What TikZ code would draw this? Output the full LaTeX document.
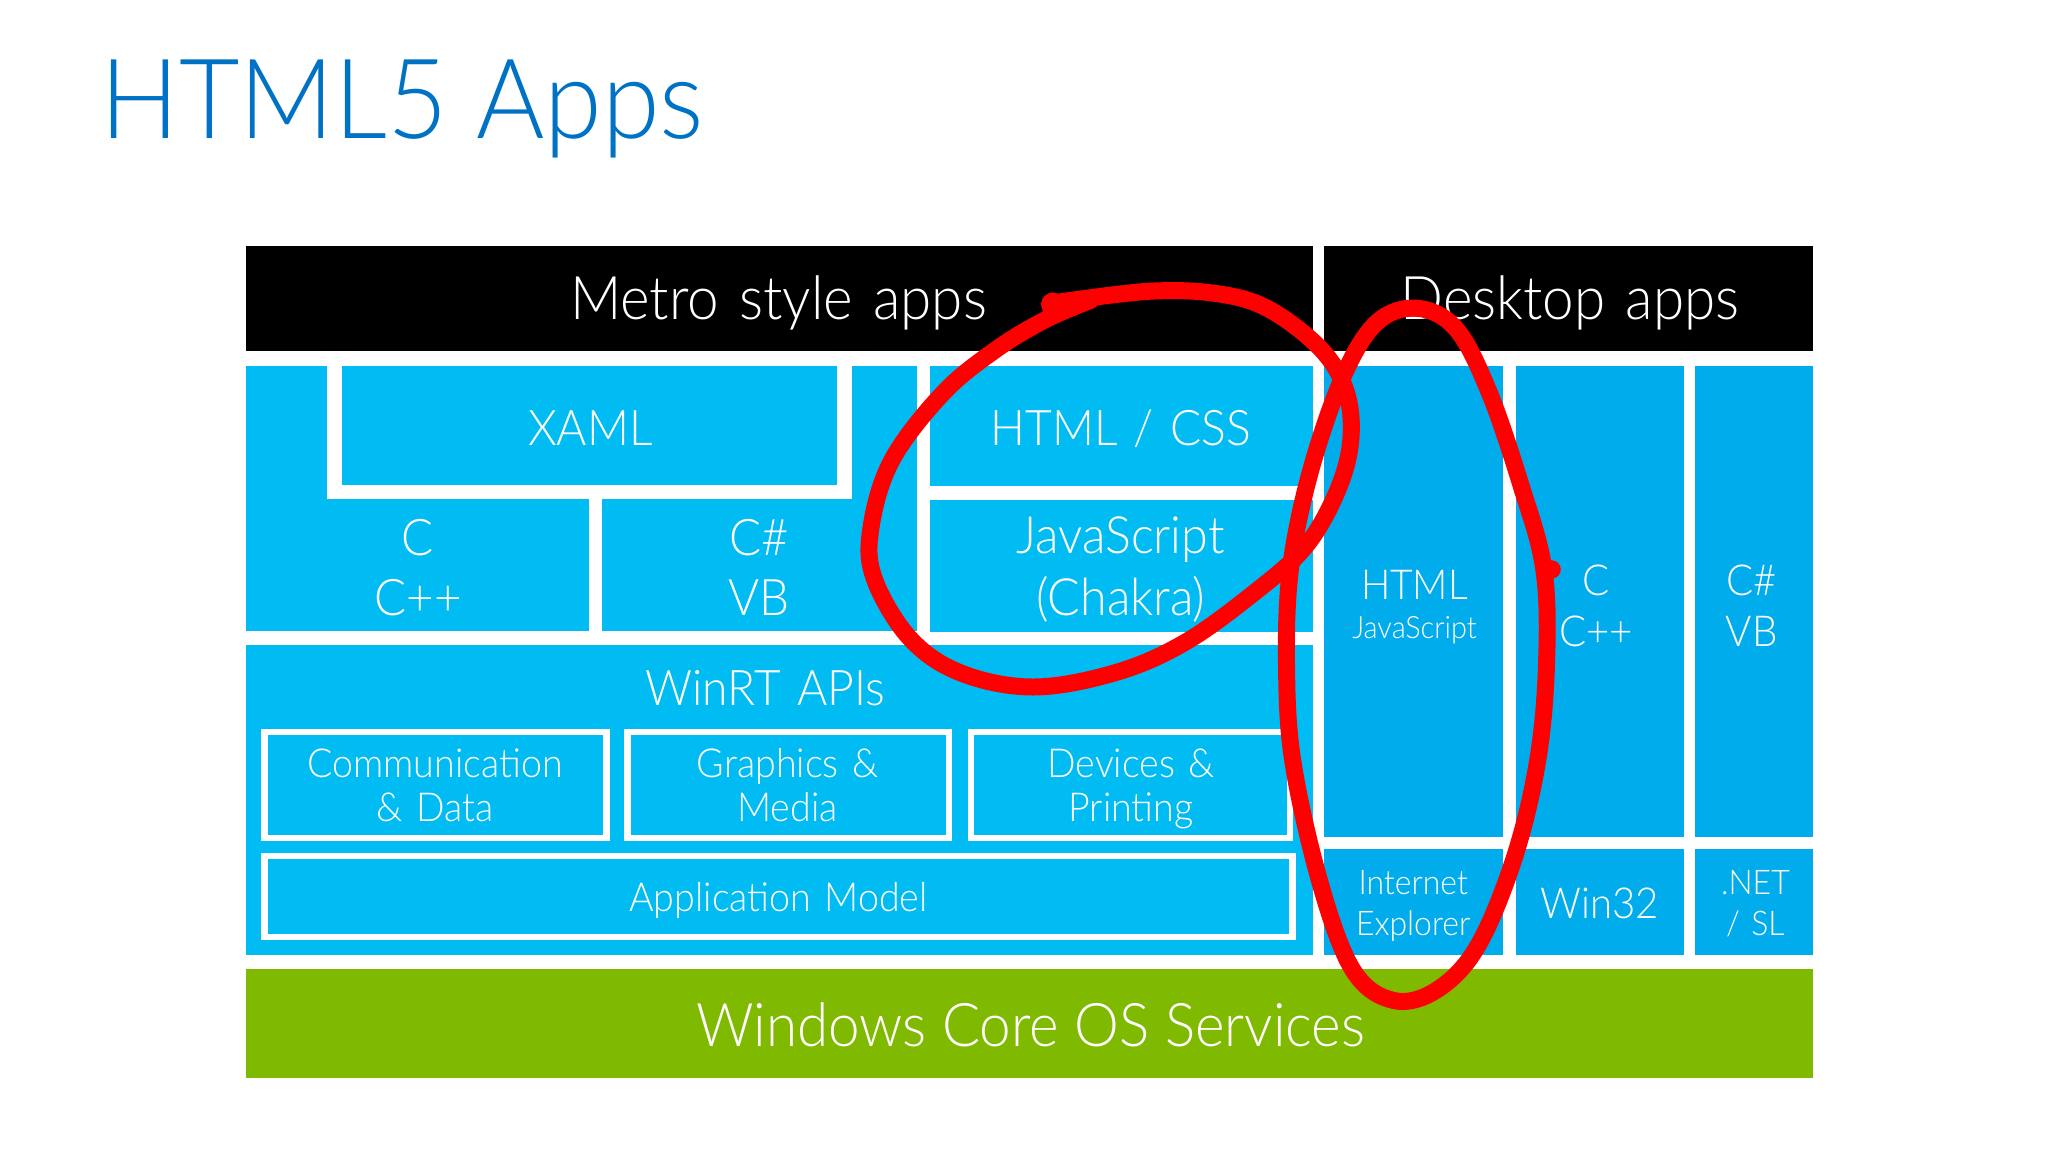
\documentclass[tikz,border=0pt]{standalone}
\usepackage{fontspec}
\setmainfont{Lato Light}[FakeStretch=0.94]
\usepackage{xcolor}

\definecolor{metroblue}{RGB}{0,188,242}
\definecolor{deskblue}{RGB}{0,172,236}
\definecolor{coregreen}{RGB}{127,186,0}
\definecolor{titleblue}{RGB}{0,114,198}
\definecolor{penred}{RGB}{255,0,0}

% filled block: name, x1, y1, x2, y2, colour
\newcommand{\blk}[6]{\node[fill=#6, inner sep=0pt, outer sep=0pt, anchor=north west,
  minimum width={(#4-#2)*0.01cm}, minimum height={(#5-#3)*0.01cm}] (#1) at (#2,#3) {};}
% outlined block: name, x1, y1, x2, y2
\newcommand{\obox}[5]{\node[draw=white, line width=0.05cm, inner sep=0pt, outer sep=0pt, anchor=north west,
  minimum width={(#4-#2-5)*0.01cm}, minimum height={(#5-#3-5)*0.01cm}] (#1) at (#2+2.5,#3+2.5) {};}
\newcommand{\fs}[2]{\fontsize{#1}{#2}\selectfont}

\begin{document}
\begin{tikzpicture}[x=0.01cm, y=-0.01cm,
  lbl/.style={text=white, inner sep=0pt, anchor=base, align=center, text width=3.5cm},
  pen/.style={draw=penred, line width=0.13cm, line cap=round, line join=round}]

\useasboundingbox[fill=white] (0,0) rectangle (1568,882);

% Title
\node[anchor=base west, inner sep=0pt, text=titleblue, font=\fs{24.2}{30}] (title) at (76,106) {HTML5 Apps};

% Header bars
\blk{metrobar}{188}{188}{1005}{269}{black}
\blk{deskbar}{1014}{188}{1388}{269}{black}
\node[lbl, font=\fs{13.1}{15}] (metrotxt) at (596,245) {Metro style apps};
\node[lbl, font=\fs{13.1}{15}] (desktxt) at (1202,245) {Desktop apps};

% Metro languages
\blk{cpp}{188}{280}{451}{483}{metroblue}
\blk{csvb}{461}{280}{702}{483}{metroblue}
\blk{xamlrim}{250}{280}{652}{382}{white}
\blk{xaml}{262}{280}{641}{371}{metroblue}
\blk{htmlcss}{712}{280}{1005}{372}{metroblue}
\blk{js}{712}{383}{1005}{484}{metroblue}

\node[lbl, font=\fs{10.7}{13}] (xamltxt) at (452,341) {XAML};
\node[lbl, font=\fs{11}{13.1}] (cpptxt) at (320,425) {C\\C++};
\node[lbl, font=\fs{11}{13.1}] (csvbtxt) at (581,425) {C\#\\VB};
\node[lbl, font=\fs{10.7}{13}] (htmlcsstxt) at (858,341) {HTML / CSS};
\node[lbl, font=\fs{11.2}{13.4}] (jstxt) at (858,424) {JavaScript\\(Chakra)};

% WinRT
\blk{winrt}{188}{494}{1005}{731}{metroblue}
\node[lbl, font=\fs{10.7}{12}] (winrttxt) at (586,540) {WinRT APIs};
\obox{comm}{200}{558}{467}{644}
\obox{gfx}{478}{558}{729}{644}
\obox{dev}{741}{558}{990}{644}
\obox{appmodel}{200}{653}{992}{720}
\node[lbl, font=\fs{8.7}{9.7}] (commtxt) at (333,595) {Communication\\\& Data};
\node[lbl, font=\fs{8.7}{9.7}] (gfxtxt) at (603,595) {Graphics \&\\Media};
\node[lbl, font=\fs{8.7}{9.7}] (devtxt) at (866,595) {Devices \&\\Printing};
\node[lbl, font=\fs{8.7}{10}] (appmodeltxt) at (596,698) {Application Model};

% Desktop columns
\blk{dhtml}{1014}{280}{1151}{641}{deskblue}
\blk{dcpp}{1161}{280}{1289}{641}{deskblue}
\blk{dcs}{1298}{280}{1388}{641}{deskblue}
\blk{ie}{1014}{650}{1151}{731}{deskblue}
\blk{win32}{1161}{650}{1289}{731}{deskblue}
\blk{dotnet}{1298}{650}{1388}{731}{deskblue}

\node[lbl, font=\fs{9}{8.4}] (dhtmltxt) at (1083,459) {HTML\\{\fs{6.7}{7}JavaScript}};
\node[lbl, font=\fs{9.3}{11}] (dcpptxt) at (1222,456) {C\\C++};
\node[lbl, font=\fs{9.3}{11}] (dcstxt) at (1341,456) {C\#\\VB};
\node[lbl, font=\fs{7.4}{8.8}] (ietxt) at (1082,685) {Internet\\Explorer};
\node[lbl, font=\fs{9.3}{11}] (win32txt) at (1225,703) {Win32};
\node[lbl, font=\fs{7.4}{8.8}] (dotnettxt) at (1344,685) {.NET\\/ SL};

% Core OS
\blk{core}{188}{742}{1388}{825}{coregreen}
\node[lbl, text width=, font=\fs{13.1}{16}] (coretxt) at (789,801.5) {Windows Core OS Services};

% Red pen marks
\draw[pen] plot[smooth, tension=0.6] coordinates {(806,232) (880,223) (933,225) (972,237) (1012,268)
  (1031,301) (1034,339) (1023,378) (999,419) (960,454) (907,492) (854,515) (791,526) (735,515)
  (696,488) (669,442) (667,403) (683,352) (722,301) (762,268) (800,245) (835,230)};
\fill[penred] (806,233) circle (9);
\draw[pen] plot[smooth cycle, tension=0.6] coordinates {(1182,436) (1184,510) (1177,584) (1159,658)
  (1131,725) (1100,758) (1067,766) (1036,743) (1011,677) (990,584) (985,510) (988,436) (1003,362)
  (1028,289) (1054,247) (1085,236) (1115,252) (1140,300) (1164,370)};
\fill[penred] (1188,436) circle (7);
\end{tikzpicture}
\end{document}
